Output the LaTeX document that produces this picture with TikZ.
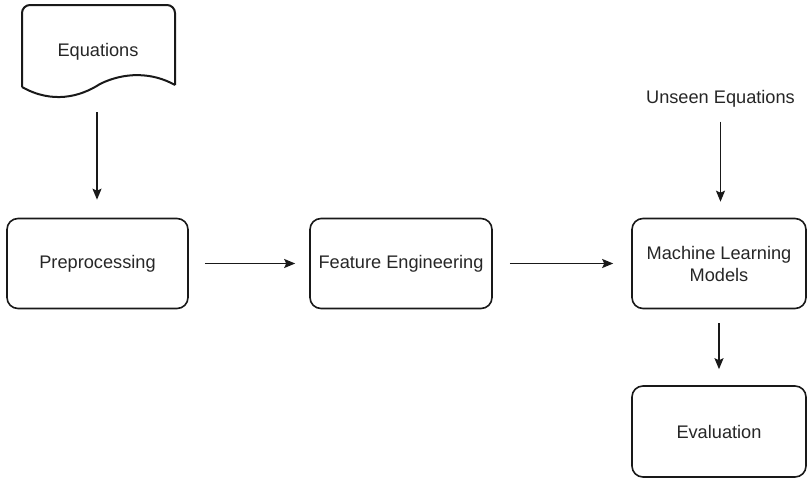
\documentclass[tikz,border=0pt]{standalone}
\usepackage{fontspec}
\setmainfont{Liberation Sans}
\usetikzlibrary{arrows.meta}
\begin{document}
\begin{tikzpicture}[x=1pt,y=-1pt,
  line width=1.6pt,
  every node/.style={font=\fontsize{18.2}{22}\selectfont, text=black!85},
  box/.style={draw=black!90, rounded corners=11pt, minimum height=90pt, align=center, inner sep=0pt},
  conn/.style={draw=black!90, -{Stealth[length=11pt,width=9pt,inset=2pt]}}
]
\useasboundingbox (0,0) rectangle (807,479);
% document shape
\draw[black!90, line width=2pt, rounded corners=8pt] (22,87) -- (22,5) -- (175,5) -- (175,85);
\draw[black!90, line width=2pt] (175,85) .. controls (152,72) and (124,72) .. (100,84)
   .. controls (80,97) and (52,104) .. (22,87);
\node (eq) at (98,52) {Equations};
\coordinate (eqb) at (97,112);
% boxes
\node[box, minimum width=181pt] (pre) at (97.5,263.5) {Preprocessing};
\node[box, minimum width=182pt] (fe) at (401,263.5) {Feature Engineering};
\node[box, minimum width=174pt] (ml) at (719,263.5) {Machine Learning\\Models};
\node[box, minimum width=174pt, minimum height=91pt] (ev) at (719,431.5) {Evaluation};
\node (un) at (720.5,99) {Unseen Equations};
% connectors
\draw[conn, shorten >=18pt] (eqb) -- (eqb |- pre.north);
\draw[conn, shorten <=16pt, shorten >=14pt] (pre) -- (fe);
\draw[conn, shorten <=17pt, shorten >=18pt] (fe) -- (ml);
\draw[conn, shorten <=10pt, shorten >=16pt] (un) -- (un |- ml.north);
\draw[conn, shorten <=14pt, shorten >=16pt] (ml.south) -- (ev.north);
\end{tikzpicture}
\end{document}
